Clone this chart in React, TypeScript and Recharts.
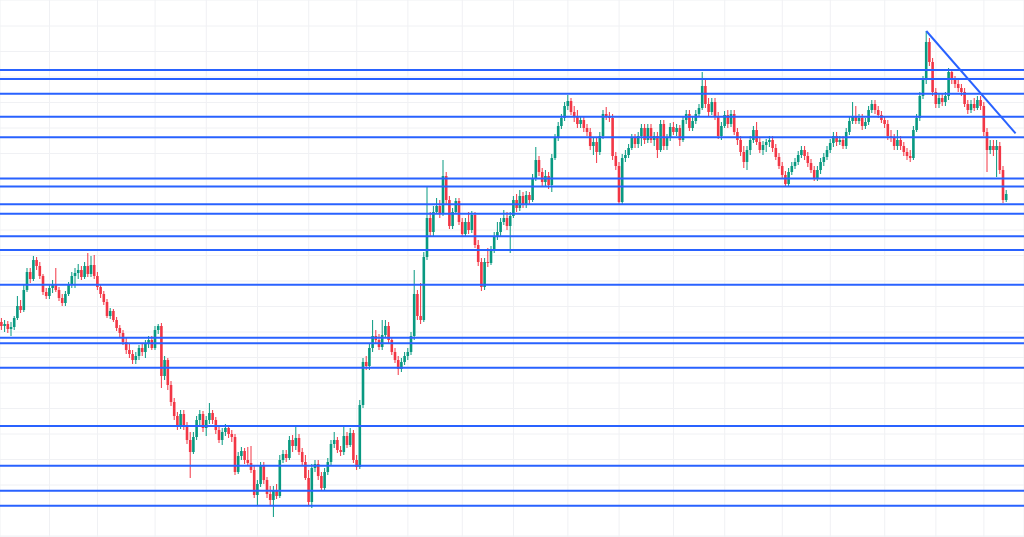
import { ComposedChart, Bar, XAxis, YAxis, CartesianGrid, ReferenceLine } from "recharts";

// candle prices, one entry per bar, left to right
const OPEN = [
  278, 274, 276, 271, 273, 282, 294, 290, 310, 328,
  321, 340, 334, 324, 308, 304, 312, 316, 310, 302,
  297, 306, 315, 324, 327, 330, 323, 334, 326, 335,
  324, 313, 306, 298, 284, 289, 280, 272, 267, 258,
  250, 246, 240, 244, 252, 248, 256, 260, 252, 270,
  274, 224, 240, 215, 198, 184, 174, 186, 174, 160,
  148, 163, 180, 186, 172, 180, 187, 180, 170, 160,
  168, 172, 166, 163, 128, 144, 149, 140, 137, 130,
  105, 116, 134, 120, 106, 100, 110, 104, 140, 146,
  142, 160, 154, 162, 148, 138, 122, 98, 132, 136,
  124, 112, 128, 138, 156, 160, 150, 148, 164, 155,
  167, 140, 133, 195, 238, 234, 252, 264, 260, 253,
  265, 274, 260, 248, 240, 231, 238, 244, 248, 264,
  306, 284, 280, 343, 382, 368, 388, 394, 386, 424,
  400, 374, 388, 399, 378, 366, 378, 370, 385, 355,
  338, 313, 338, 337, 350, 364, 368, 378, 382, 374,
  384, 400, 392, 404, 395, 405, 400, 422, 440, 428,
  418, 424, 415, 442, 462, 474, 482, 494, 499, 488,
  484, 476, 480, 472, 468, 454, 458, 448, 464, 486,
  484, 482, 444, 434, 398, 442, 445, 452, 462, 456,
  464, 472, 460, 472, 460, 464, 450, 476, 454, 462,
  473, 468, 472, 460, 480, 486, 472, 479, 486, 492,
  514, 496, 488, 498, 484, 464, 474, 485, 476, 486,
  468, 460, 448, 438, 450, 460, 470, 458, 450, 455,
  458, 460, 452, 443, 434, 425, 416, 428, 434, 438,
  445, 450, 444, 437, 430, 422, 430, 438, 443, 450,
  457, 464, 458, 460, 454, 468, 479, 484, 479, 482,
  474, 478, 490, 496, 490, 485, 480, 476, 464, 462,
  454, 460, 454, 448, 444, 442, 470, 482, 504, 520,
  558, 538, 508, 496, 502, 498, 504, 528, 520, 516,
  512, 508, 496, 490, 496, 492, 500, 494, 468, 450,
  454, 450, 454, 430, 400,
];
const HIGH = [
  282, 280, 279, 278, 284, 304, 300, 315, 332, 332,
  344, 343, 338, 326, 312, 315, 320, 332, 313, 306,
  309, 318, 328, 332, 336, 334, 338, 347, 344, 345,
  328, 316, 309, 301, 292, 291, 283, 275, 270, 262,
  256, 250, 248, 255, 256, 260, 264, 264, 274, 276,
  277, 244, 242, 219, 202, 188, 190, 190, 178, 168,
  168, 184, 190, 189, 184, 197, 190, 183, 174, 172,
  176, 175, 170, 166, 148, 153, 152, 153, 154, 134,
  120, 138, 138, 123, 114, 114, 116, 145, 150, 150,
  164, 165, 173, 166, 152, 145, 130, 136, 140, 140,
  128, 132, 142, 160, 168, 163, 154, 173, 168, 172,
  170, 145, 200, 242, 244, 256, 280, 270, 266, 280,
  280, 278, 263, 252, 244, 242, 248, 252, 268, 330,
  310, 317, 348, 413, 388, 394, 402, 400, 440, 428,
  404, 392, 402, 402, 382, 382, 388, 389, 388, 360,
  342, 342, 352, 354, 368, 378, 382, 390, 388, 388,
  404, 406, 410, 408, 409, 408, 426, 453, 444, 432,
  430, 428, 446, 466, 478, 486, 498, 505, 502, 494,
  490, 484, 484, 476, 472, 462, 462, 468, 490, 493,
  488, 486, 448, 438, 446, 450, 456, 466, 466, 468,
  476, 476, 476, 476, 468, 468, 480, 480, 466, 477,
  478, 476, 475, 484, 490, 490, 483, 490, 496, 528,
  520, 502, 502, 502, 488, 478, 489, 490, 490, 490,
  472, 464, 454, 454, 464, 474, 478, 462, 459, 461,
  464, 464, 456, 447, 438, 429, 432, 438, 442, 449,
  454, 454, 448, 441, 434, 434, 442, 447, 454, 461,
  468, 468, 464, 464, 472, 483, 498, 494, 486, 486,
  482, 494, 500, 500, 494, 489, 484, 480, 470, 466,
  470, 464, 458, 452, 450, 474, 486, 508, 524, 569,
  562, 542, 512, 506, 506, 508, 532, 530, 524, 520,
  516, 512, 500, 500, 502, 504, 504, 498, 472, 460,
  460, 460, 458, 434, 410,
];
const LOW = [
  270, 268, 267, 264, 270, 280, 287, 288, 308, 317,
  319, 330, 321, 305, 301, 301, 307, 308, 299, 294,
  294, 304, 312, 312, 321, 320, 321, 323, 323, 321,
  310, 302, 295, 282, 281, 278, 269, 263, 255, 246,
  242, 236, 236, 240, 244, 242, 252, 250, 250, 266,
  212, 220, 210, 194, 180, 170, 171, 170, 156, 122,
  146, 160, 174, 168, 164, 176, 176, 166, 157, 155,
  164, 162, 158, 125, 126, 140, 136, 134, 127, 102,
  95, 113, 116, 102, 95, 83, 101, 102, 137, 138,
  140, 148, 150, 145, 134, 120, 94, 92, 128, 120,
  109, 110, 125, 135, 152, 147, 144, 145, 152, 153,
  137, 130, 131, 192, 230, 230, 248, 256, 250, 250,
  262, 257, 245, 237, 225, 228, 235, 240, 245, 260,
  280, 276, 278, 340, 364, 364, 386, 382, 384, 396,
  371, 371, 386, 375, 363, 364, 366, 367, 352, 334,
  309, 310, 333, 335, 347, 360, 364, 375, 370, 347,
  382, 388, 389, 392, 392, 396, 398, 419, 424, 414,
  414, 411, 408, 440, 459, 471, 479, 490, 485, 478,
  472, 472, 468, 464, 450, 445, 437, 445, 461, 480,
  478, 440, 430, 395, 395, 438, 442, 450, 452, 452,
  454, 456, 457, 457, 454, 442, 448, 450, 450, 459,
  465, 464, 454, 458, 476, 469, 469, 476, 483, 490,
  492, 484, 485, 480, 461, 460, 472, 472, 473, 465,
  455, 444, 432, 430, 445, 457, 455, 447, 445, 448,
  453, 448, 440, 431, 422, 414, 414, 425, 431, 435,
  442, 440, 433, 427, 419, 419, 426, 434, 440, 447,
  453, 454, 455, 451, 451, 465, 476, 476, 476, 470,
  471, 475, 487, 486, 482, 477, 472, 460, 458, 450,
  450, 450, 444, 440, 438, 440, 468, 479, 501, 516,
  534, 504, 492, 492, 494, 494, 500, 516, 512, 508,
  504, 493, 486, 487, 489, 490, 490, 464, 428, 446,
  444, 423, 426, 397, 398,
];
const CLOSE = [
  274, 276, 271, 273, 282, 294, 290, 310, 328, 321,
  340, 334, 324, 308, 304, 312, 316, 310, 302, 297,
  306, 315, 324, 327, 330, 323, 334, 326, 335, 324,
  313, 306, 298, 284, 289, 280, 272, 267, 258, 250,
  246, 240, 244, 252, 248, 256, 260, 252, 270, 274,
  224, 240, 215, 198, 184, 174, 186, 174, 160, 148,
  163, 180, 186, 172, 180, 187, 180, 170, 160, 168,
  172, 166, 163, 128, 144, 149, 140, 137, 130, 105,
  116, 134, 120, 106, 100, 110, 104, 140, 146, 142,
  160, 154, 162, 148, 138, 122, 98, 132, 136, 124,
  112, 128, 138, 156, 160, 150, 148, 164, 155, 167,
  140, 133, 195, 238, 234, 252, 264, 260, 253, 265,
  274, 260, 248, 240, 231, 238, 244, 248, 264, 306,
  284, 280, 343, 382, 368, 388, 394, 386, 424, 400,
  374, 388, 399, 378, 366, 378, 370, 385, 355, 338,
  313, 338, 337, 350, 364, 368, 378, 382, 374, 384,
  400, 392, 404, 395, 405, 400, 422, 440, 428, 418,
  424, 415, 442, 462, 474, 482, 494, 499, 488, 484,
  476, 480, 472, 468, 454, 458, 448, 464, 486, 484,
  482, 444, 434, 398, 442, 445, 452, 462, 456, 464,
  472, 460, 472, 460, 464, 450, 476, 454, 462, 473,
  468, 472, 460, 480, 486, 472, 479, 486, 492, 514,
  496, 488, 498, 484, 464, 474, 485, 476, 486, 468,
  460, 448, 438, 450, 460, 470, 458, 450, 455, 458,
  460, 452, 443, 434, 425, 416, 428, 434, 438, 445,
  450, 444, 437, 430, 422, 430, 438, 443, 450, 457,
  464, 458, 460, 454, 468, 479, 484, 479, 482, 474,
  478, 490, 496, 490, 485, 480, 476, 464, 462, 454,
  460, 454, 448, 444, 442, 470, 482, 504, 520, 558,
  538, 508, 496, 502, 498, 504, 528, 520, 516, 512,
  508, 496, 490, 496, 492, 500, 494, 468, 450, 454,
  450, 454, 430, 400, 406,
];

// horizontal support / resistance levels
const LEVELS = [
  530, 521, 506.3, 483.3, 462.7, 421.5, 413.5, 395.8, 386.3, 363.7,
  350, 315.3, 262.3, 256.7, 232.3, 174, 134.3, 109.3, 94.3,
];
// falling trendline from the top
const TREND = [
  { x: 289, y: 569 },
  { x: 316.9, y: 466.7 },
];

const GRID_X = [15, 30, 48, 64, 80, 96, 111, 127, 144, 160, 177, 193, 210, 226, 244, 259, 276, 292, 307];
const GRID_Y = [
  574, 548.5, 523, 497.5, 472, 446.5, 421, 395.5, 370, 344.5, 319,
  293.5, 268, 242.5, 217, 191.5, 166, 140.5, 115, 89.5, 64,
];

const UP = "#089981";
const DOWN = "#f23645";
const LINE = "#2962ff";

const data = OPEN.map((o, i) => ({ i, open: o, high: HIGH[i], low: LOW[i], close: CLOSE[i] }));

function Candle(props: any) {
  const { x, y, width, height, payload } = props;
  if (!payload || x == null) return null;
  const { open, close, high, low } = payload;
  const cx = x + width / 2;
  const top = Math.min(y, y + height);
  const h = Math.abs(height);
  const k = high === low ? 0 : h / (high - low);
  const yO = top + (high - open) * k;
  const yC = top + (high - close) * k;
  const color = close >= open ? UP : DOWN;
  const bw = 2.6;
  const bTop = Math.min(yO, yC);
  const bH = Math.max(1, Math.abs(yO - yC));
  return (
    <g>
      <line x1={cx} x2={cx} y1={top} y2={top + h} stroke={color} strokeWidth={1} />
      <rect x={cx - bw / 2} y={bTop} width={bw} height={bH} fill={color} />
    </g>
  );
}

export default function App() {
  return (
    <div style={{ position: "absolute", left: 0, top: 0, width: 1024, height: 537, background: "#fff" }}>
      <ComposedChart width={1024} height={537} data={data} margin={{ top: 0, right: 0, bottom: 0, left: 0 }}>
        <CartesianGrid stroke="#f0f1f4" strokeWidth={1} />
        <XAxis
          dataKey="i"
          type="number"
          domain={[-0.47, 319.53]}
          allowDataOverflow
          ticks={GRID_X}
          hide
        />
        <YAxis type="number" domain={[63, 600]} allowDataOverflow ticks={GRID_Y} hide />
        <Bar
          dataKey={(d: any) => [d.low, d.high]}
          barSize={3}
          shape={Candle}
          isAnimationActive={false}
        />
        {LEVELS.map((v) => (
          <ReferenceLine key={v} y={v} stroke={LINE} strokeWidth={2} />
        ))}
        <ReferenceLine segment={TREND} stroke={LINE} strokeWidth={2} />
      </ComposedChart>
    </div>
  );
}
